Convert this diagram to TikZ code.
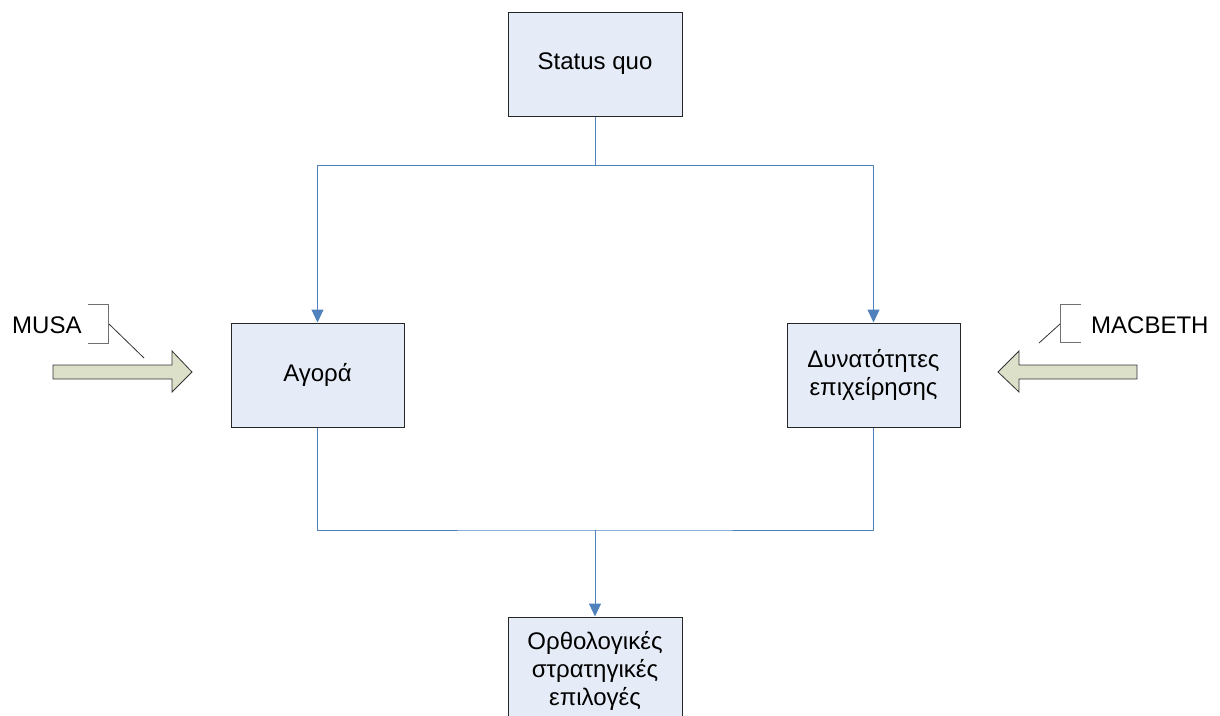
\documentclass[tikz,border=0pt]{standalone}
\usepackage{fontspec}
\setmainfont{Liberation Sans}
\usetikzlibrary{arrows.meta}
\definecolor{boxfill}{HTML}{E6ECF7}
\definecolor{conncol}{HTML}{4F81BD}
\definecolor{arrfill}{HTML}{DCE0C8}
\definecolor{brk}{HTML}{707070}
\tikzset{
  stepbox/.style={draw=black!85, line width=1pt, fill=boxfill, minimum width=174pt, minimum height=104pt, inner sep=0pt, align=center, font=\fontsize{24}{28}\selectfont},
  conn/.style={draw=conncol, line width=1pt},
  connarr/.style={conn, -{Triangle[width=12pt,length=13pt]}},
  blockarr/.style={draw=black!80, line width=0.8pt, fill=arrfill, line join=miter},
  bracket/.style={draw=brk, line width=1pt},
  lbl/.style={font=\fontsize{24}{28}\selectfont, inner sep=0pt}
}
\begin{document}
\begin{tikzpicture}[x=1pt,y=-1pt]
\useasboundingbox (0,0) rectangle (1220,715);
\clip (0,0) rectangle (1220,715);
\node[stepbox] (sq) at (595,64) {Status quo};
\node[stepbox, minimum width=173pt] (ag) at (317.5,375) {Αγορά};
\node[stepbox, minimum width=173pt] (dy) at (873.5,375) {Δυνατότητες\\επιχείρησης};
\node[stepbox, minimum height=108pt] (or) at (595,671) {Ορθολογικές\\στρατηγικές\\επιλογές};
\coordinate (top) at (595,165);
\coordinate (bot) at (595,530);
\draw[conn] (sq.south) -- (top);
\draw[connarr] (top) -| (ag.north);
\draw[connarr] (top) -| (dy.north);
\draw[conn] (ag.south) |- (bot) -| (dy.south);
\draw[connarr] (bot) -- (or.north);
% MUSA
\node[lbl, anchor=west] (musa) at (12,325) {MUSA};
\draw[bracket] (88,304) -- (108,304) -- (108,343) -- (88,343);
\coordinate (mb) at (109,324);
\coordinate (mt) at (144,358);
\draw[bracket, line width=0.8pt, draw=black!80] (mb) -- (mt);
\draw[blockarr] (53,365) -- (172,365) -- (172,351) -- (192,372) -- (172,392) -- (172,379) -- (53,379) -- cycle;
\coordinate (marr) at (192,372);
% MACBETH
\node[lbl, anchor=west] (mac) at (1091,325) {MACBETH};
\draw[bracket] (1081,304) -- (1060,304) -- (1060,342) -- (1081,342);
\coordinate (cb) at (1060,324);
\coordinate (ct) at (1039,343);
\draw[bracket, line width=0.8pt, draw=black!80] (cb) -- (ct);
\draw[blockarr] (1137,365) -- (1019,365) -- (1019,351) -- (998,372) -- (1019,392) -- (1019,379) -- (1137,379) -- cycle;
\end{tikzpicture}
\end{document}
